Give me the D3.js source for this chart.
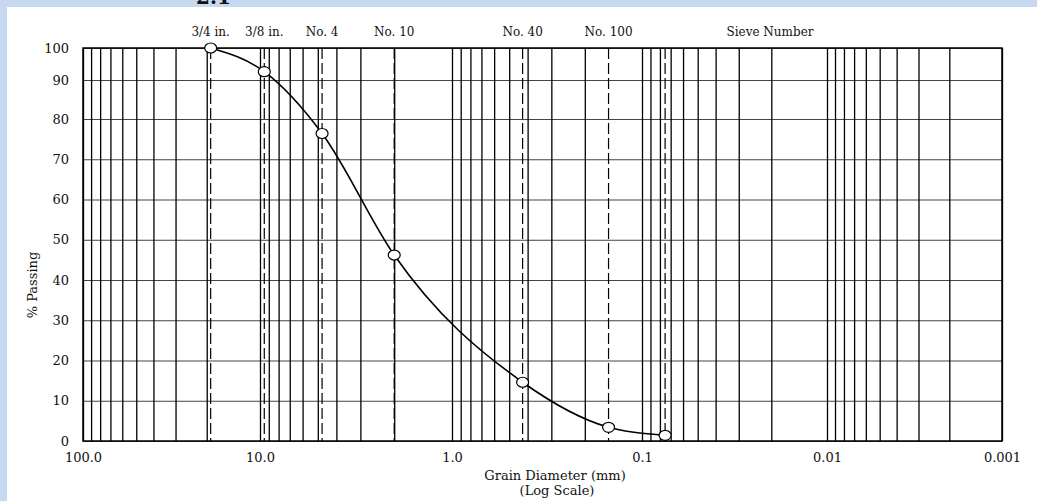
<!DOCTYPE html>
<html>
<head>
<meta charset="utf-8">
<script src="https://cdn.jsdelivr.net/npm/d3@7"></script>
<style>
  html, body { margin: 0; padding: 0; background: #fff; }
  svg { display: block; }
  text { font-family: "DejaVu Serif", "Liberation Serif", serif; fill: #111; }
</style>
</head>
<body>
<div id="chart-container"></div>
<script>
// sieve data (mm, % passing)
const sieveLabels = ["3/4 in.", "3/8 in.", "No. 4", "No. 10", "No. 40", "No. 100", ""];
const sieveSizes = [19, 9.5, 4.75, 2.0, 0.425, 0.15, 0.075];
const percentPassing = [100, 92.6, 76.4, 46.2, 14.6, 3.4, 1.4];

const decadeTicks = [100, 10, 1, 0.1, 0.01, 0.001];
const decadeLabels = ["100.0", "10.0", "1.0", "0.1", "0.01", "0.001"];
const yTicks = [0, 10, 20, 30, 40, 50, 60, 70, 80, 90, 100];

const width = 1037, height = 501;
const marginLeft = 83, marginRight = 35, marginTop = 48, marginBottom = 60;
const plotBottom = height - marginBottom; // 441
const plotRight = width - marginRight;

const svg = d3.select("#chart-container")
  .append("svg")
  .attr("width", width)
  .attr("height", height);

// blue page frame from the scan
svg.append("rect").attr("x", 0).attr("y", 0).attr("width", width).attr("height", 7).attr("fill", "#c6d9f1");
svg.append("rect").attr("x", 0).attr("y", 0).attr("width", 7).attr("height", height).attr("fill", "#c6d9f1");
// heading of the page, mostly cropped away like in the scan
svg.append("text").attr("x", 196).attr("y", 4)
  .style("font-size", "20px").style("font-weight", "bold").text("2.1");

// log scale, decades placed like on the printed paper
const x = d3.scaleLog()
  .domain(decadeTicks)
  .range([marginLeft, 260, 452, 642, 827, plotRight]);

// linear % scale (top band of the paper is a bit squeezed)
const y = d3.scaleLinear()
  .domain([0, 80, 90, 100])
  .range([plotBottom, 119, 80, marginTop]);

// horizontal grid
svg.append("g")
  .attr("transform", `translate(${marginLeft},0)`)
  .call(d3.axisLeft(y).tickValues(yTicks).tickSize(-(plotRight - marginLeft)).tickFormat(""))
  .call((g) => g.select(".domain").remove())
  .call((g) => g.selectAll("line").attr("stroke", "#444").attr("stroke-width", 1));

// vertical grid 1..9 per decade
svg.append("g")
  .attr("transform", `translate(0,${plotBottom})`)
  .call(d3.axisBottom(x).tickValues(x.ticks()).tickSize(-(plotBottom - marginTop)).tickFormat(""))
  .call((g) => g.select(".domain").remove())
  .call((g) => g.selectAll("line").attr("stroke", "#000").attr("stroke-width", 1.3));

// dashed sieve lines
svg.append("g")
  .selectAll("line")
  .data(sieveSizes)
  .enter()
  .append("line")
  .attr("x1", (d) => x(d))
  .attr("x2", (d) => x(d))
  .attr("y1", marginTop)
  .attr("y2", plotBottom)
  .attr("stroke", "#000")
  .attr("stroke-width", 1.2)
  .attr("stroke-dasharray", "11,4");

// border
svg.append("rect")
  .attr("x", marginLeft)
  .attr("y", marginTop)
  .attr("width", plotRight - marginLeft)
  .attr("height", plotBottom - marginTop)
  .attr("fill", "none")
  .attr("stroke", "#000")
  .attr("stroke-width", 1.5);

// tick labels
svg.append("g")
  .attr("transform", `translate(${marginLeft - 14},0)`)
  .call(d3.axisLeft(y).tickValues(yTicks).tickSize(0).tickPadding(0))
  .call((g) => g.select(".domain").remove())
  .call((g) => g.selectAll("text").style("font-size", "13px").style("font-family", null));

svg.append("g")
  .attr("transform", `translate(0,${plotBottom + 12})`)
  .call(d3.axisBottom(x).tickValues(decadeTicks).tickSize(0).tickPadding(0)
    .tickFormat((d, i) => decadeLabels[i]))
  .call((g) => g.select(".domain").remove())
  .call((g) => g.selectAll("text").style("font-size", "13px").style("font-family", null));

// sieve names along the top
svg.append("g")
  .selectAll("text")
  .data(sieveSizes)
  .enter()
  .append("text")
  .attr("x", (d) => x(d))
  .attr("y", 36)
  .attr("text-anchor", "middle")
  .style("font-size", "12px")
  .text((d, i) => sieveLabels[i]);

svg.append("text")
  .attr("x", 770).attr("y", 36)
  .attr("text-anchor", "middle")
  .style("font-size", "12px")
  .text("Sieve Number");

// axis titles
svg.append("text")
  .attr("x", 555).attr("y", 480)
  .attr("text-anchor", "middle")
  .style("font-size", "13px")
  .text("Grain Diameter (mm)");
svg.append("text")
  .attr("x", 557).attr("y", 495)
  .attr("text-anchor", "middle")
  .style("font-size", "13px")
  .text("(Log Scale)");
svg.append("text")
  .attr("transform", "translate(37,285) rotate(-90)")
  .attr("text-anchor", "middle")
  .style("font-size", "13px")
  .text("% Passing");

// gradation curve
const points = sieveSizes.map((s, i) => [s, percentPassing[i]]);
svg.append("path")
  .datum(points)
  .attr("fill", "none")
  .attr("stroke", "#000")
  .attr("stroke-width", 1.6)
  .attr("d", d3.line().x((d) => x(d[0])).y((d) => y(d[1])).curve(d3.curveMonotoneX));

svg.append("g")
  .selectAll("ellipse")
  .data(points)
  .enter()
  .append("ellipse")
  .attr("cx", (d) => x(d[0]))
  .attr("cy", (d) => y(d[1]))
  .attr("rx", 6)
  .attr("ry", 5)
  .attr("fill", "#fff")
  .attr("stroke", "#000")
  .attr("stroke-width", 1.2);
</script>
</body>
</html>
